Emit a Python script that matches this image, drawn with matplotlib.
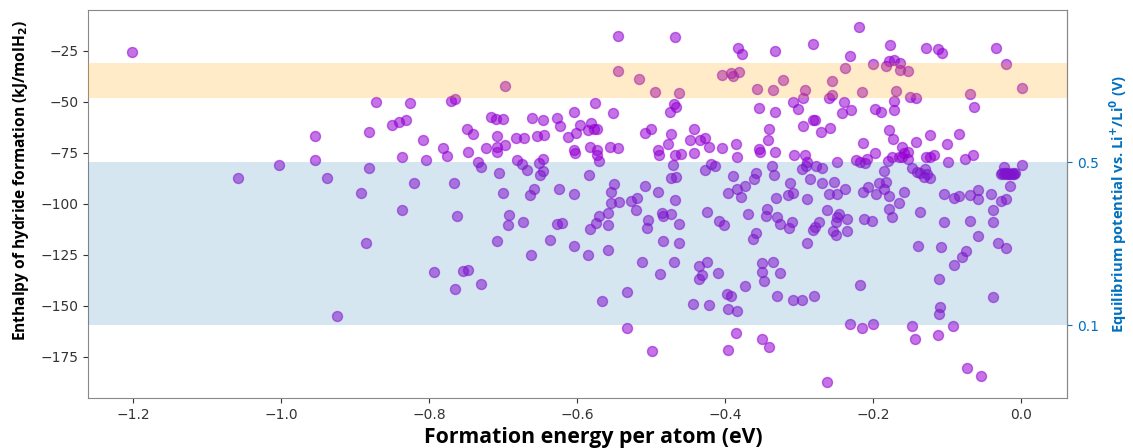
import matplotlib
matplotlib.use("Agg")
import matplotlib.pyplot as plt

# formation energy per atom (eV) and enthalpy of hydride formation (kJ/molH2)
e_form = [
    -1.202, -0.954, -1.003, -0.954, -1.059, -0.938,
    -0.697, -0.872, -0.826, -0.771, -0.765, -0.881, -0.851, -0.841, -0.831, -0.749,
    -0.741, -0.716, -0.710, -0.701, -0.661, -0.647, -0.627, -0.624, -0.605, -0.708,
    -0.683, -0.672, -0.655, -0.645, -0.612, -0.602, -0.808, -0.597,
    -0.545, -0.468, -0.383, -0.377, -0.333, -0.282, -0.545, -0.517, -0.495, -0.462,
    -0.405, -0.392, -0.390, -0.382, -0.357, -0.335, -0.322, -0.293, -0.295, -0.309,
    -0.302, -0.355, -0.333, -0.281, -0.279, -0.295, -0.341, -0.576, -0.552, -0.469,
    -0.467, -0.475, -0.581, -0.578, -0.574, -0.585, -0.500, -0.509, -0.473, -0.442,
    -0.448, -0.434, -0.427, -0.343, -0.271,
    -0.219, -0.177, -0.232, -0.129, -0.112, -0.107, -0.034, -0.021, 0.001, -0.238,
    -0.201, -0.183, -0.179, -0.172, -0.164, -0.164, -0.153, -0.256, -0.256, -0.260,
    -0.216, -0.170, -0.172, -0.151, -0.142, -0.069, -0.064, -0.240, -0.230, -0.243,
    -0.198, -0.190, -0.172, -0.259, -0.179, -0.123, -0.084,
    -0.781, -0.776, -0.747, -0.723, -0.708, -0.697, -0.709, -0.604, -0.603, -0.837,
    -0.804, -0.734, -0.730, -0.681, -0.675, -0.668, -0.647, -0.652, -0.647, -0.651,
    -0.881, -0.706, -0.821, -0.767, -0.892, -0.700, -0.659, -0.664, -0.625, -0.605,
    -0.837, -0.762, -0.692, -0.694, -0.674, -0.627, -0.620, -0.885, -0.709, -0.637,
    -0.604, -0.662,
    -0.793, -0.754, -0.748, -0.765, -0.730, -0.924,
    -0.583, -0.574, -0.556, -0.545, -0.574, -0.571, -0.491, -0.489, -0.477, -0.468,
    -0.460, -0.422, -0.442, -0.404, -0.385, -0.384, -0.355, -0.353, -0.333, -0.307,
    -0.292, -0.289, -0.291, -0.297, -0.277, -0.270, -0.471, -0.428, -0.419, -0.414,
    -0.584, -0.473, -0.467, -0.389, -0.359, -0.361, -0.337, -0.334, -0.550, -0.554,
    -0.509, -0.491, -0.373, -0.384, -0.396, -0.379, -0.312, -0.308, -0.315, -0.286,
    -0.270, -0.331, -0.290, -0.554, -0.543, -0.528, -0.519, -0.521, -0.468, -0.558,
    -0.571, -0.575, -0.559, -0.583, -0.504, -0.506, -0.486, -0.484, -0.474, -0.462,
    -0.425, -0.409, -0.402, -0.370, -0.344, -0.345, -0.330, -0.326, -0.310, -0.314,
    -0.274, -0.279, -0.282, -0.359, -0.363, -0.484, -0.462, -0.558, -0.586, -0.290,
    -0.513, -0.469, -0.425, -0.436, -0.351, -0.335,
    -0.488, -0.432, -0.436, -0.410, -0.350, -0.348, -0.326, -0.533, -0.567, -0.444,
    -0.422, -0.398, -0.392, -0.374, -0.396, -0.384, -0.330, -0.308, -0.296, -0.280,
    -0.533, -0.499, -0.385, -0.396, -0.350, -0.341,
    -0.218, -0.111, -0.038, -0.110, -0.111, -0.232, -0.216, -0.201, -0.148, -0.144,
    -0.113, -0.093, -0.073, -0.054, -0.262,
    -0.214, -0.174, -0.161, -0.158, -0.153, -0.143, -0.100, -0.198, -0.249, -0.224,
    -0.218, -0.211, -0.208, -0.180, -0.175, -0.166, -0.161, -0.153, -0.129, -0.123,
    -0.118, -0.099, -0.076, -0.065, -0.185, -0.148, -0.137, -0.132, -0.123, -0.130,
    -0.141, -0.127, -0.253, -0.207, -0.214, -0.193, -0.183, -0.185, -0.238, -0.260,
    -0.249, -0.196, -0.179, -0.159, -0.166, -0.179, -0.175, -0.262, -0.246, -0.249,
    -0.235, -0.251, -0.213, -0.202, -0.137, -0.105, -0.091, -0.084, -0.069, -0.058,
    -0.058, -0.041, -0.039, -0.027, -0.021, -0.015, -0.023, 0.001,
    -0.028, -0.026, -0.024, -0.022, -0.020, -0.019, -0.017, -0.015, -0.013, -0.011,
    -0.010, -0.009,
    -0.104, -0.069, -0.038, -0.254, -0.251, -0.235, -0.058, -0.140, -0.108, -0.075,
    -0.080, -0.091, -0.032, -0.021,
]
dh_form = [
    -25.5, -66.5, -81.2, -78.6, -87.3, -87.3,
    -42.2, -50.0, -50.6, -49.4, -48.5, -64.6, -61.3, -59.9, -58.7, -63.1,
    -65.8, -57.2, -58.5, -58.5, -57.8, -58.7, -57.7, -61.6, -55.2, -66.7,
    -67.8, -67.8, -66.7, -66.3, -67.3, -65.3, -68.9, -61.3,
    -17.5, -18.1, -23.4, -26.6, -25.3, -21.4, -34.8, -38.7, -45.2, -45.9,
    -36.8, -35.9, -37.4, -35.3, -43.5, -44.0, -39.4, -44.0, -48.0, -50.0,
    -53.4, -52.8, -55.2, -58.7, -58.9, -61.9, -63.2, -50.6, -55.4, -51.1,
    -52.6, -54.8, -60.4, -63.2, -63.4, -63.7, -63.2, -65.3, -65.7, -63.2,
    -68.9, -68.9, -67.5, -68.9, -64.6,
    -13.4, -22.1, -27.3, -23.4, -24.0, -26.1, -23.4, -31.4, -43.3, -33.5,
    -31.4, -32.2, -29.9, -29.4, -31.0, -34.3, -34.7, -40.0, -46.6, -48.2,
    -45.2, -44.6, -49.4, -47.4, -48.2, -46.1, -52.6, -50.0, -53.9, -55.4,
    -53.3, -54.8, -53.9, -62.6, -63.9, -66.3, -65.8,
    -72.4, -76.5, -74.7, -72.4, -71.9, -71.1, -74.4, -73.5, -75.1, -77.1,
    -78.6, -79.3, -82.0, -78.4, -80.4, -83.3, -77.8, -80.1, -83.7, -85.8,
    -82.5, -85.1, -89.9, -89.9, -94.5, -94.5, -92.5, -95.9, -92.5, -95.1,
    -103.1, -105.9, -105.7, -110.6, -108.7, -109.8, -109.2, -119.1, -118.3, -117.6,
    -120.9, -125.0,
    -133.5, -132.8, -132.4, -141.7, -139.1, -154.9,
    -72.2, -73.5, -71.9, -72.7, -76.3, -78.8, -73.5, -76.3, -70.6, -76.3,
    -75.6, -71.9, -75.1, -72.4, -70.6, -77.1, -73.0, -74.7, -74.7, -76.0,
    -76.0, -79.3, -81.4, -82.7, -81.4, -82.5, -80.9, -83.3, -80.4, -81.4,
    -86.1, -87.4, -86.6, -86.3, -85.0, -87.9, -81.4, -85.8, -90.2, -94.0,
    -91.2, -94.0, -91.2, -92.8, -94.5, -96.7, -89.9, -94.8, -95.9, -87.9,
    -89.9, -97.2, -97.4, -99.7, -99.2, -98.5, -97.2, -103.1, -98.0, -104.3,
    -105.9, -109.5, -110.4, -112.4, -107.8, -111.9, -104.3, -105.9, -104.9, -109.8,
    -103.8, -108.2, -110.6, -105.1, -102.5, -105.9, -106.5, -109.8, -109.0, -111.6,
    -108.7, -111.4, -112.7, -114.4, -117.2, -118.1, -119.1, -122.4, -125.0, -119.0,
    -128.3, -128.3, -128.3, -130.4, -129.1, -128.3,
    -134.3, -134.8, -136.9, -133.7, -133.2, -137.6, -134.0, -143.0, -147.6, -148.9,
    -149.5, -144.1, -145.4, -140.2, -151.6, -152.3, -145.0, -146.9, -146.9, -145.0,
    -161.0, -172.1, -163.4, -171.6, -166.2, -170.2,
    -139.7, -136.9, -145.6, -150.8, -154.1, -158.8, -160.9, -158.8, -160.1, -166.3,
    -164.2, -160.1, -180.7, -184.2, -187.4,
    -70.0, -68.1, -71.9, -75.1, -74.7, -69.5, -70.6, -75.1, -79.3, -78.4,
    -79.3, -79.8, -78.1, -78.8, -77.1, -77.1, -77.1, -78.1, -77.1, -76.8,
    -76.0, -79.3, -77.9, -76.0, -84.0, -82.5, -85.0, -86.6, -87.4, -83.0,
    -84.3, -85.3, -89.1, -91.5, -94.0, -89.9, -89.1, -92.8, -92.6, -95.2,
    -95.1, -95.2, -96.4, -94.0, -99.7, -102.5, -106.5, -102.9, -104.9, -106.5,
    -107.4, -108.8, -107.4, -108.3, -103.8, -95.1, -97.2, -96.4, -95.9, -93.1,
    -97.4, -95.1, -102.9, -98.5, -97.7, -91.2, -81.7, -81.2,
    -85.5, -84.8, -85.6, -84.9, -85.5, -84.7, -85.4, -85.6, -84.9, -85.3,
    -85.6, -84.8,
    -108.8, -108.3, -109.0, -113.1, -115.2, -113.1, -115.7, -120.9, -121.4, -122.9,
    -126.3, -129.9, -119.0, -121.7,
]

# shaded ranges (kJ/molH2)
yellow_band = (-48.0, -31.0)
blue_band = (-159.5, -79.5)
volt_ticks = [0.5, 0.1]


def h_to_v(h):
    return (h + 179.5) / 200.0


def v_to_h(v):
    return v * 200.0 - 179.5


blue = "#0070C0"
label_font = "Open Sans"

fig = plt.figure(figsize=(11.33, 4.48), dpi=100)
ax = fig.add_axes([0.0777, 0.112, 0.8643, 0.866])

ax.scatter(e_form, dh_form, s=52, color="#9400D3", alpha=0.55, zorder=2)
ax.axhspan(*yellow_band, color="orange", alpha=0.22, lw=0, zorder=3)
ax.axhspan(*blue_band, color="tab:blue", alpha=0.18, lw=0, zorder=3)

ax.set_xlim(-1.261, 0.062)
ax.set_ylim(-195.1, -4.9)
ax.set_xticks([-1.2, -1.0, -0.8, -0.6, -0.4, -0.2, 0.0])
ax.set_yticks([-175, -150, -125, -100, -75, -50, -25])
ax.tick_params(labelsize=10, colors="#333333")
for s in ax.spines.values():
    s.set_color("#888888")

ax.set_xlabel("Formation energy per atom (eV)", fontsize=15.3, fontweight="bold",
              family=label_font)
ax.xaxis.set_label_coords(0.516, -0.076)
ax.set_ylabel("Enthalpy of hydride formation (kJ/molH$_\\mathbf{2}$)", fontsize=11.2,
              fontweight="bold", family=label_font)
ax.yaxis.set_label_coords(-0.058, 0.56)

sec = ax.secondary_yaxis("right", functions=(h_to_v, v_to_h))
sec.set_yticks(volt_ticks)
sec.set_yticklabels([str(v) for v in volt_ticks])
sec.tick_params(labelsize=10, colors=blue)
sec.spines["right"].set_color("#888888")
sec.set_ylabel("Equilibrium potential vs. Li$^\\mathbf{+}$/Li$^\\mathbf{0}$ (V)", fontsize=10.6,
               fontweight="bold", family=label_font, color=blue, labelpad=6)

fig.savefig("out.png", dpi=100)
